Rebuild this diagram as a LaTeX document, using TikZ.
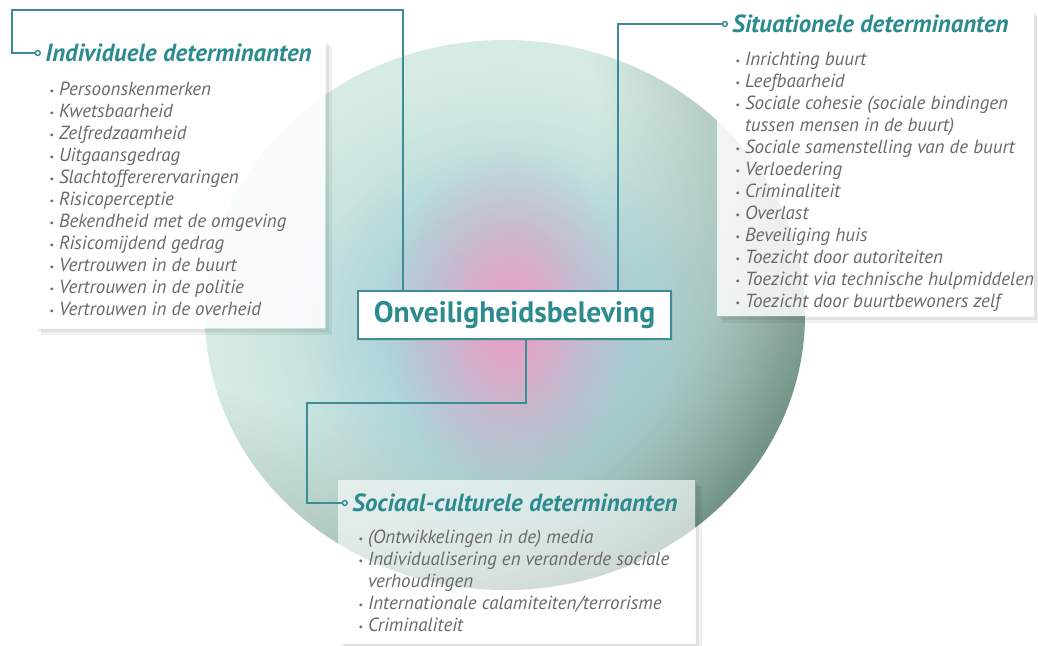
\documentclass[tikz,border=0pt]{standalone}
\usepackage{fontspec}
\setmainfont{PT Sans}
\usetikzlibrary{arrows.meta,fadings,shadows}

\definecolor{tealtxt}{RGB}{43,139,142}
\definecolor{linkteal}{RGB}{61,141,152}
\definecolor{itemgray}{RGB}{105,105,105}
\definecolor{mint}{RGB}{214,236,226}
\definecolor{midsage}{RGB}{168,194,182}
\definecolor{sage}{RGB}{112,146,130}
\definecolor{aqua}{RGB}{160,204,216}
\definecolor{rose}{RGB}{234,162,198}

\pgfdeclareradialshading{spherelight}{\pgfpoint{0bp}{0bp}}{color(0bp)=(mint); color(12bp)=(mint);
  color(19bp)=(midsage); color(24bp)=(sage); color(50bp)=(sage)}
\tikzfading[name=softfade, inner color=transparent!0, outer color=transparent!100]
\newcommand{\bul}{\makebox[4.8pt][l]{\raisebox{0.8pt}{\fontsize{5}{5}\selectfont •}}}
% soft shadow strip on the right and bottom of a panel
\newcommand{\panelshade}[2]{\fill[black, opacity=0.06]
  ([xshift=#2]#1.south west) -- ([xshift=#2,yshift=-#2]#1.south west)
  -- ([xshift=#2,yshift=-#2]#1.south east) -- ([xshift=#2,yshift=-#2]#1.north east)
  -- ([yshift=-#2]#1.north east) -- (#1.south east) -- cycle;}

\begin{document}
\begin{tikzpicture}[x=0.5pt, y=-0.5pt,
  link/.style={draw=linkteal, line width=0.75pt, -{Circle[open, length=3.2pt, width=3.2pt]}},
  panel/.style={fill=white, fill opacity=0.85, draw=none, inner sep=0pt, anchor=north west},
  title/.style={anchor=west, inner xsep=2pt, inner ysep=0pt, text=tealtxt,
                font=\fontsize{12.4}{14}\selectfont\bfseries\itshape},
  items/.style={anchor=north west, inner sep=0pt, align=left, text=itemgray,
                font=\fontsize{9.5}{11}\selectfont\itshape},
  corebox/.style={draw=linkteal, line width=0.8pt, fill=white, minimum width=156.5pt,
                  minimum height=24pt, text=tealtxt, font=\fontsize{14.8}{16}\selectfont\bfseries,
                  drop shadow={opacity=0.15, shadow xshift=1pt, shadow yshift=-1pt}},
]
\useasboundingbox[fill=white] (0,0) rectangle (1038,645);

% sphere
\begin{scope}
  \clip (505,315) ellipse (300 and 275);
  \shade[shading=spherelight] (330,140) circle (560);
\end{scope}
\fill[aqua, path fading=softfade] (505,330) ellipse (280 and 260);
\fill[aqua, path fading=softfade, fill opacity=0.8] (505,330) ellipse (200 and 190);
\fill[rose, path fading=softfade] (510,320) ellipse (125 and 170);
\fill[rose, path fading=softfade, fill opacity=0.6] (510,320) ellipse (70 and 100);

% panels
\node[panel, minimum width=145pt, minimum height=144pt] (ipanel) at (35,40) {};
\node[panel, fill opacity=0.82, minimum width=158pt, minimum height=153pt] (spanel) at (717,10) {};
\node[panel, fill opacity=0.62, minimum width=178.5pt, minimum height=81.5pt] (cpanel) at (338,480) {};
\foreach \p in {ipanel,spanel,cpanel} {\panelshade{\p}{1.5pt} \panelshade{\p}{3pt}}

\node[corebox] (core) at (514.5,315) {Onveiligheidsbeleving};

\node[title] (ititle) at (41,53)  {Individuele determinanten};
\node[title] (stitle) at (728,24) {Situationele determinanten};
\node[title] (ctitle) at (348,503) {Sociaal-culturele determinanten};

\coordinate (ibend) at (12,10);
\coordinate (cbend) at (307,403);

\draw[link] ([xshift=-55.75pt]core.north) |- (ibend) |- (ititle.west);
\draw[link] ([xshift=51.75pt]core.north) |- (stitle.west);
\draw[link] ([xshift=5.75pt]core.south) |- (cbend) |- (ctitle.west);

\node[items] (ilist) at (49,82) {\bul Persoonskenmerken\\
  \bul Kwetsbaarheid\\
  \bul Zelfredzaamheid\\
  \bul Uitgaansgedrag\\
  \bul Slachtoffererervaringen\\
  \bul Risicoperceptie\\
  \bul Bekendheid met de omgeving\\
  \bul Risicomijdend gedrag\\
  \bul Vertrouwen in de buurt\\
  \bul Vertrouwen in de politie\\
  \bul Vertrouwen in de overheid};
\node[items] (slist) at (735,52) {\bul Inrichting buurt\\
  \bul Leefbaarheid\\
  \bul Sociale cohesie (sociale bindingen\\
  \hspace*{4.8pt}tussen mensen in de buurt)\\
  \bul Sociale samenstelling van de buurt\\
  \bul Verloedering\\
  \bul Criminaliteit\\
  \bul Overlast\\
  \bul Beveiliging huis\\
  \bul Toezicht door autoriteiten\\
  \bul Toezicht via technische hulpmiddelen\\
  \bul Toezicht door buurtbewoners zelf};
\node[items] (clist) at (358,530) {\bul (Ontwikkelingen in de) media\\
  \bul Individualisering en veranderde sociale\\
  \hspace*{4.8pt}verhoudingen\\
  \bul Internationale calamiteiten/terrorisme\\
  \bul Criminaliteit};
\end{tikzpicture}
\end{document}
